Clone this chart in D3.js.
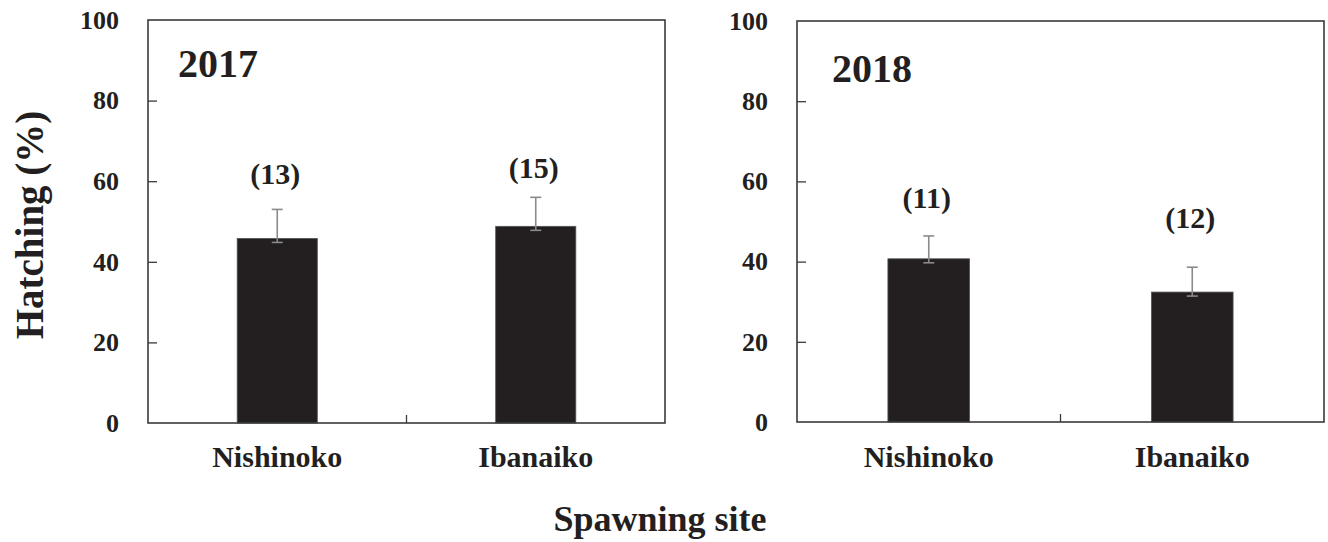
<!DOCTYPE html>
<html>
<head>
<meta charset="utf-8">
<script src="https://cdn.jsdelivr.net/npm/d3@7"></script>
<style>
  body { margin: 0; background: #fff; }
  text { font-family: "Liberation Serif", "Times New Roman", serif; font-weight: bold; fill: #231f20; }
  .tick line { stroke: #3a3a3a; stroke-width: 1.3px; }
</style>
</head>
<body>
<svg width="1328" height="542"></svg>
<script>
// spawning sites (x categories)
const sites = ["Nishinoko", "Ibanaiko"];
const years = ["2017", "2018"];

// mean hatching (%) per year, in site order
const hatch2017 = [45.8, 48.8];
const hatch2018 = [40.7, 32.4];

// standard error (upper whisker)
const err2017 = [7.2, 7.2];
const err2018 = [5.7, 6.2];

// sample sizes and where their label sits (in % units)
const n2017 = [13, 15];
const n2018 = [11, 12];
const nAt2017 = [61.8, 63.3];
const nAt2018 = [55.9, 50.9];

const yTicks = [0, 20, 40, 60, 80, 100];

const svg = d3.select("svg");

// panel boxes
const panels = [
  {year: years[0], vals: hatch2017, errs: err2017, ns: n2017, nAt: nAt2017,
   x0: 148, x1: 665, y0: 20, y1: 423, yearX: 30, yearY: 57},
  {year: years[1], vals: hatch2018, errs: err2018, ns: n2018, nAt: nAt2018,
   x0: 797, x1: 1324, y0: 21, y1: 422, yearX: 35, yearY: 61}
];

panels.forEach(p => {
  const x = d3.scaleBand().domain(sites).range([p.x0, p.x1]).paddingInner(0).paddingOuter(0);
  const y = d3.scaleLinear().domain([0, 100]).range([p.y1, p.y0]);
  const barW = x.bandwidth() * 0.31;

  const g = svg.append("g");

  // bars
  g.selectAll("rect.bar")
    .data(sites)
    .enter().append("rect")
      .attr("class", "bar")
      .attr("x", (d) => x(d) + x.bandwidth() / 2 - barW / 2)
      .attr("y", (d, i) => y(p.vals[i]))
      .attr("width", barW)
      .attr("height", (d, i) => y(0) - y(p.vals[i]))
      .attr("fill", "#231f20")
      .attr("stroke", "#555")
      .attr("stroke-width", 0.8);

  // error bars (upper side only, small cap just under bar top)
  const capW = 11;
  sites.forEach((s, i) => {
    const cx = x(s) + x.bandwidth() / 2;
    const top = y(p.vals[i] + p.errs[i]);
    const bot = y(p.vals[i]) + 4;
    const eg = g.append("g").attr("stroke", "#8a8a8a").attr("stroke-width", 1.6);
    eg.append("line").attr("x1", cx).attr("x2", cx).attr("y1", top).attr("y2", bot);
    eg.append("line").attr("x1", cx - capW / 2).attr("x2", cx + capW / 2).attr("y1", top).attr("y2", top);
    eg.append("line").attr("x1", cx - capW / 2).attr("x2", cx + capW / 2).attr("y1", bot).attr("y2", bot);
  });

  // n labels
  g.selectAll("text.n")
    .data(p.ns)
    .enter().append("text")
      .attr("class", "n")
      .attr("x", (d, i) => x(sites[i]) + x.bandwidth() / 2 - 2)
      .attr("y", (d, i) => y(p.nAt[i]))
      .attr("dy", "0.35em")
      .attr("text-anchor", "middle")
      .style("font-size", "30px")
      .text(d => "(" + d + ")");

  // y axis, ticks pointing inward
  const yAxis = d3.axisLeft(y).tickValues(yTicks).tickSizeInner(-9).tickSizeOuter(0).tickPadding(29);
  const ya = g.append("g").attr("transform", `translate(${p.x0},0)`).call(yAxis);
  ya.select(".domain").remove();
  ya.selectAll(".tick text").style("font-size", "26px").attr("fill", "#231f20");
  ya.selectAll(".tick").filter(d => d === 0 || d === 100).select("line").remove();

  // x axis: a single divider tick in the middle, plus category labels
  const mid = (p.x0 + p.x1) / 2;
  g.append("line")
    .attr("x1", mid).attr("x2", mid)
    .attr("y1", p.y1).attr("y2", p.y1 - 8)
    .attr("stroke", "#3a3a3a").attr("stroke-width", 1.3);

  g.selectAll("text.cat")
    .data(sites)
    .enter().append("text")
      .attr("class", "cat")
      .attr("x", d => x(d) + x.bandwidth() / 2)
      .attr("y", 467)
      .attr("text-anchor", "middle")
      .style("font-size", "30px")
      .text(d => d);

  // frame
  g.append("rect")
    .attr("x", p.x0).attr("y", p.y0)
    .attr("width", p.x1 - p.x0).attr("height", p.y1 - p.y0)
    .attr("fill", "none")
    .attr("stroke", "#3a3a3a")
    .attr("stroke-width", 1.6);

  // year label
  g.append("text")
    .attr("x", p.x0 + p.yearX)
    .attr("y", p.y0 + p.yearY)
    .style("font-size", "40px")
    .text(p.year);
});

// shared axis titles
svg.append("text")
  .attr("transform", "translate(43,225) rotate(-90)")
  .attr("text-anchor", "middle")
  .style("font-size", "39px")
  .text("Hatching (%)");

svg.append("text")
  .attr("x", 660)
  .attr("y", 531)
  .attr("text-anchor", "middle")
  .style("font-size", "36px")
  .text("Spawning site");
</script>
</body>
</html>
